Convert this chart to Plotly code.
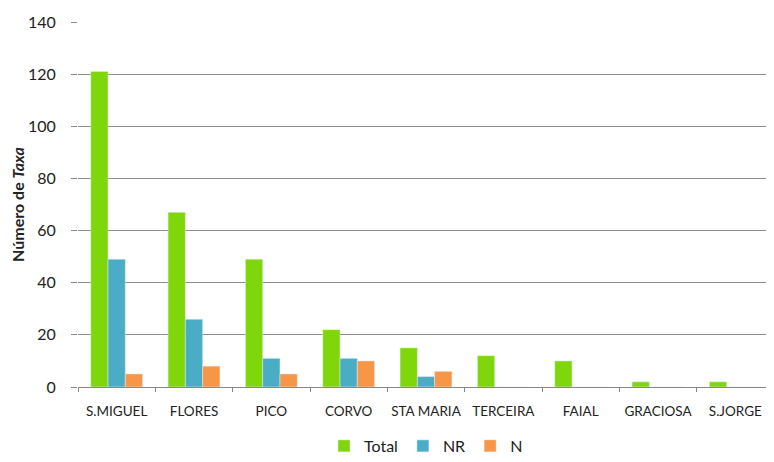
import plotly.graph_objects as go

islands = ["S.MIGUEL", "FLORES", "PICO", "CORVO", "STA MARIA",
           "TERCEIRA", "FAIAL", "GRACIOSA", "S.JORGE"]
total = [121, 67, 49, 22, 15, 12, 10, 2, 2]
nr = [49, 26, 11, 11, 4, 0, 0, 0, 0]
n = [5, 8, 5, 10, 6, 0, 0, 0, 0]

GREEN = "#7ED60B"
BLUE = "#4BACC6"
ORANGE = "#F79646"
FONT = "Lato"

fig = go.Figure()
fig.add_bar(x=islands, y=total, name="Total", marker_color=GREEN)
fig.add_bar(x=islands, y=nr, name="NR", marker_color=BLUE)
fig.add_bar(x=islands, y=n, name="N", marker_color=ORANGE)

# page body has an 8px margin, so the figure is sized to fit inside it
fig.update_layout(
    barmode="group",
    bargap=0.33,
    bargroupgap=0,
    width=766, height=454,
    margin=dict(l=70, r=0, t=14, b=75, autoexpand=False),
    plot_bgcolor="white",
    paper_bgcolor="white",
    font=dict(family=FONT, size=14, color="#222222"),
    legend=dict(orientation="h", x=0.5, xanchor="center", y=-0.115,
                yanchor="top", font=dict(size=16), traceorder="normal",
                itemwidth=30, tracegroupgap=0),
    xaxis=dict(showline=True, linecolor="#888888", ticks="outside",
               tickson="boundaries", ticklen=4, tickcolor="#888888",
               tickangle=0, ticklabelstandoff=12,
               tickfont=dict(size=13.5)),
    yaxis=dict(range=[0, 140], dtick=20, showgrid=True, gridcolor="#8c8c8c",
               gridwidth=1, ticks="outside", ticklen=6, tickcolor="#888888",
               showline=False, zeroline=False, ticklabelstandoff=12,
               tickfont=dict(size=16),
               title=dict(text="<b>Número de <i>Taxa</i></b>",
                          font=dict(size=16), standoff=8)),
)

fig.write_html("out.html")
